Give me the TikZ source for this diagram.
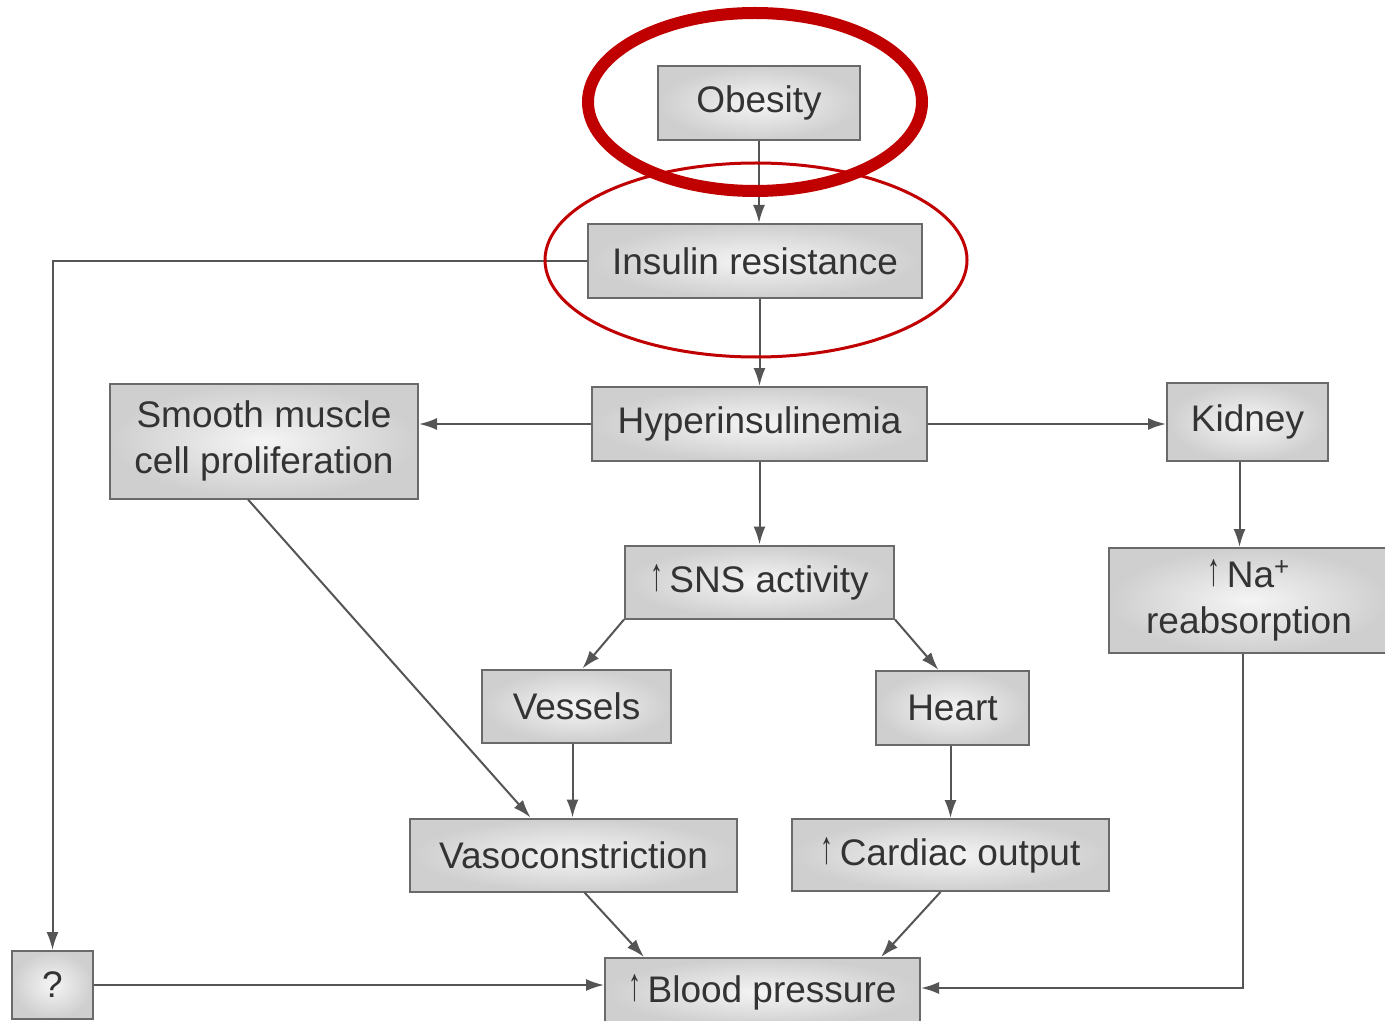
\documentclass[tikz,border=0pt]{standalone}
\usepackage{fontspec}
\setmainfont{Liberation Sans}
\usetikzlibrary{arrows.meta}

\definecolor{boxline}{HTML}{6A6A6A}
\definecolor{boxtext}{HTML}{333333}
\definecolor{linkline}{HTML}{555555}
\definecolor{markred}{HTML}{C00000}

\newcommand{\up}{\raisebox{1pt}{\scalebox{0.7}[1.25]{↑}}\,}

\begin{document}
\begin{tikzpicture}[> = {Latex[length = 9pt, width = 6pt]}, x = 0.5pt, y = -0.5pt,
	box/.style = {draw = boxline, line width = 1pt, inner color = gray!8, outer color = gray!38,
		text = boxtext, font = \fontsize{18.5pt}{23pt}\selectfont, align = center, inner sep = 2pt},
	link/.style = {draw = linkline, line width = 1pt, ->}]

	% Frame of the picture

	\useasboundingbox (0, 0) rectangle (1385, 1021);

	% Boxes

	\node [box, minimum width = 101pt, minimum height = 37pt] (obesity) at (759, 103) {Obesity};
	\node [box, minimum width = 167pt, minimum height = 37pt] (insulin) at (755, 261) {Insulin resistance};
	\node [box, minimum width = 167.5pt, minimum height = 37pt] (hyper) at (759.5, 424) {Hyperinsulinemia};
	\node [box, minimum width = 154pt, minimum height = 57.5pt] (smooth) at (264, 441) {Smooth muscle\\cell proliferation};
	\node [box, minimum width = 80.5pt, minimum height = 39pt] (kidney) at (1247.5, 422) {Kidney};
	\node [box, minimum width = 134.5pt, minimum height = 36.5pt] (sns) at (759.5, 582) {\up SNS activity};
	\node [box, minimum width = 140pt, minimum height = 52.5pt] (sodium) at (1249, 600.5) {\up Na\textsuperscript{+}\\reabsorption};
	\node [box, minimum width = 94.5pt, minimum height = 36.5pt] (vessels) at (576.5, 706) {Vessels};
	\node [box, minimum width = 76.5pt, minimum height = 37pt] (heart) at (952.5, 708) {Heart};
	\node [box, minimum width = 163.5pt, minimum height = 36.5pt] (vaso) at (573.5, 855) {Vasoconstriction};
	\node [box, minimum width = 158.5pt, minimum height = 36pt] (cardiac) at (950.5, 855) {\up Cardiac output};
	\node [box, minimum width = 40.5pt, minimum height = 34pt] (unknown) at (52.5, 985) {?};
	\node [box, minimum width = 157.5pt, minimum height = 34pt] (bp) at (762.5, 992) {\up Blood pressure};

	% Connectors

	\draw [link] (obesity.south) -- (obesity.south |- insulin.north);
	\draw [link] (insulin.south -| hyper.north) -- (hyper.north);
	\draw [link] (insulin.west) -| (unknown.north);
	\draw [link] (hyper.west) -- (hyper.west -| smooth.east);
	\draw [link] (hyper.east) -- (hyper.east -| kidney.west);
	\draw [link] (hyper) -- (sns);
	\draw [link] (sns.south west) -- ([xshift = 3pt] vessels.north);
	\draw [link] (sns.south east) -- ([xshift = -7pt] heart.north);
	\draw [link] ([xshift = -8pt] smooth.south) -- ([xshift = -21.5pt] vaso.north);
	\draw [link] ([xshift = -2pt] vessels.south) -- ([xshift = -2pt] vessels.south |- vaso.north);
	\draw [link] ([xshift = -1pt] heart.south) -- ([xshift = -1pt] heart.south |- cardiac.north);
	\draw [link] ([xshift = -4pt] kidney.south) -- ([xshift = -4pt] kidney.south |- sodium.north);
	\draw [link] ([xshift = 5.5pt] vaso.south) -- ([xshift = 20pt] bp.north west);
	\draw [link] ([xshift = -5pt] cardiac.south) -- ([xshift = -20pt] bp.north east);
	\draw [link] ([xshift = -3pt] sodium.south) |- ([yshift = 2pt] bp.east);
	\draw [link] (unknown.east) -- (unknown.east -| bp.west);

	% Red marks

	\draw [markred, line width = 1.5pt] (756, 260) circle [x radius = 211, y radius = 97];
	\draw [markred, line width = 6pt] (755, 102) circle [x radius = 167, y radius = 89];

\end{tikzpicture}
\end{document}
